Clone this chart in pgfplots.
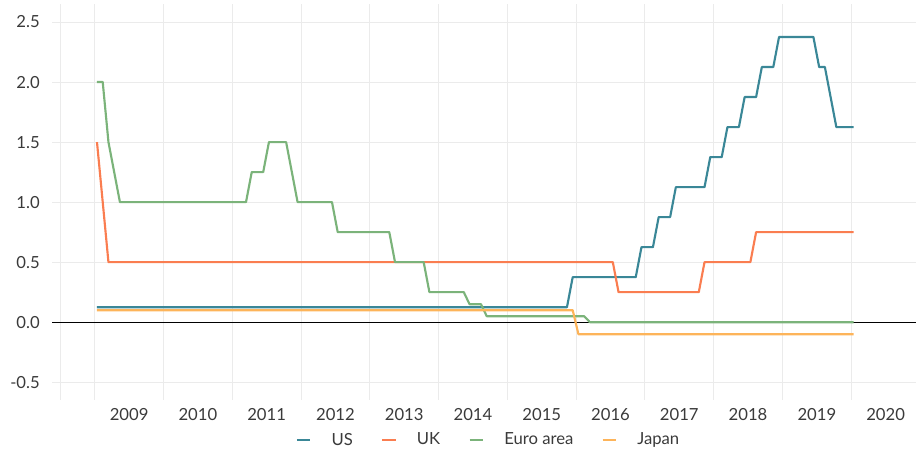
\documentclass[border=0pt]{standalone}
\usepackage{pgfplots}
\pgfplotsset{compat=1.18}
\usepackage{fontspec}
\setmainfont{Lato}
\definecolor{usc}{HTML}{3A8797}
\definecolor{ukc}{HTML}{FA7D50}
\definecolor{euc}{HTML}{7BB37A}
\definecolor{jpc}{HTML}{FDB45A}
\definecolor{gridc}{HTML}{EBEBEB}
\definecolor{labc}{HTML}{3A3A3A}
\begin{document}
\begin{tikzpicture}[x=1pt,y=1pt]
\useasboundingbox (0,0) rectangle (687,340.5);
\begin{axis}[
  at={(39pt,40.5pt)}, anchor=south west,
  scale only axis, width=648pt, height=297pt,
  xmin=-7.85, xmax=142.9, ymin=-0.648, ymax=2.65,
  axis line style={draw=none},
  major tick length=0pt, minor tick length=0pt,
  xtick={5.6,17.6,29.6,41.6,53.6,65.6,77.6,89.6,101.6,113.6,125.6,137.6},
  xticklabels={2009,2010,2011,2012,2013,2014,2015,2016,2017,2018,2019,2020},
  minor xtick={-6.4,-0.4,11.6,23.6,35.6,47.6,59.6,71.6,83.6,95.6,107.6,119.6,131.6},
  xmajorgrids=false, xminorgrids=true,
  ytick={-0.5,0,0.5,1,1.5,2,2.5},
  yticklabels={-0.5,0.0,0.5,1.0,1.5,2.0,2.5},
  ymajorgrids=true,
  grid style={color=gridc, line width=0.75pt},
  minor grid style={color=gridc, line width=0.75pt},
  tick label style={font=\fontsize{12.5}{14}\selectfont, text=labc},
  xticklabel style={inner sep=0pt, anchor=north, yshift=-6pt},
  yticklabel style={inner sep=0pt, anchor=east, xshift=-9pt},
  legend columns=4,
  legend style={at={(0.504,-0.101)}, anchor=center, draw=none, fill=none,
    font=\fontsize{12.5}{14}\selectfont, text=labc,
    nodes={inner sep=0pt},
    /tikz/every odd column/.append style={column sep=15pt},
    /tikz/every even column/.append style={column sep=21pt}},
  legend image code/.code={\draw[#1, line width=2pt] (0pt,0pt) -- (10pt,0pt);},
  every axis plot/.append style={line width=1.6pt, line join=round},
]
\addplot[black, line width=0.75pt, forget plot] coordinates {(-7.85,0) (142.9,0)};
\addplot[usc] coordinates {
(0,0.125) (82,0.125) (83,0.375) (94,0.375) (95,0.625) (97,0.625) (98,0.875)
(100,0.875) (101,1.125) (106,1.125) (107,1.375) (109,1.375) (110,1.625)
(112,1.625) (113,1.875) (115,1.875) (116,2.125) (118,2.125) (119,2.375)
(125,2.375) (126,2.125) (127,2.125) (128,1.875) (129,1.625) (132,1.625)};
\addlegendentry{US}
\addplot[ukc] coordinates {
(0,1.5) (1,1.0) (2,0.5) (90,0.5) (91,0.25) (105,0.25) (106,0.5) (114,0.5)
(115,0.75) (132,0.75)};
\addlegendentry{UK}
\addplot[euc] coordinates {
(0,2.0) (1,2.0) (2,1.5) (3,1.25) (4,1.0) (26,1.0) (27,1.25) (29,1.25)
(30,1.5) (33,1.5) (34,1.25) (35,1.0) (41,1.0) (42,0.75) (51,0.75) (52,0.5)
(57,0.5) (58,0.25) (64,0.25) (65,0.15) (67,0.15) (68,0.05) (85,0.05)
(86,0.0) (132,0.0)};
\addlegendentry{Euro area\hspace{9pt}}
\addplot[jpc] coordinates {
(0,0.1) (83,0.1) (84,-0.1) (132,-0.1)};
\addlegendentry{Japan}
\end{axis}
\end{tikzpicture}
\end{document}
